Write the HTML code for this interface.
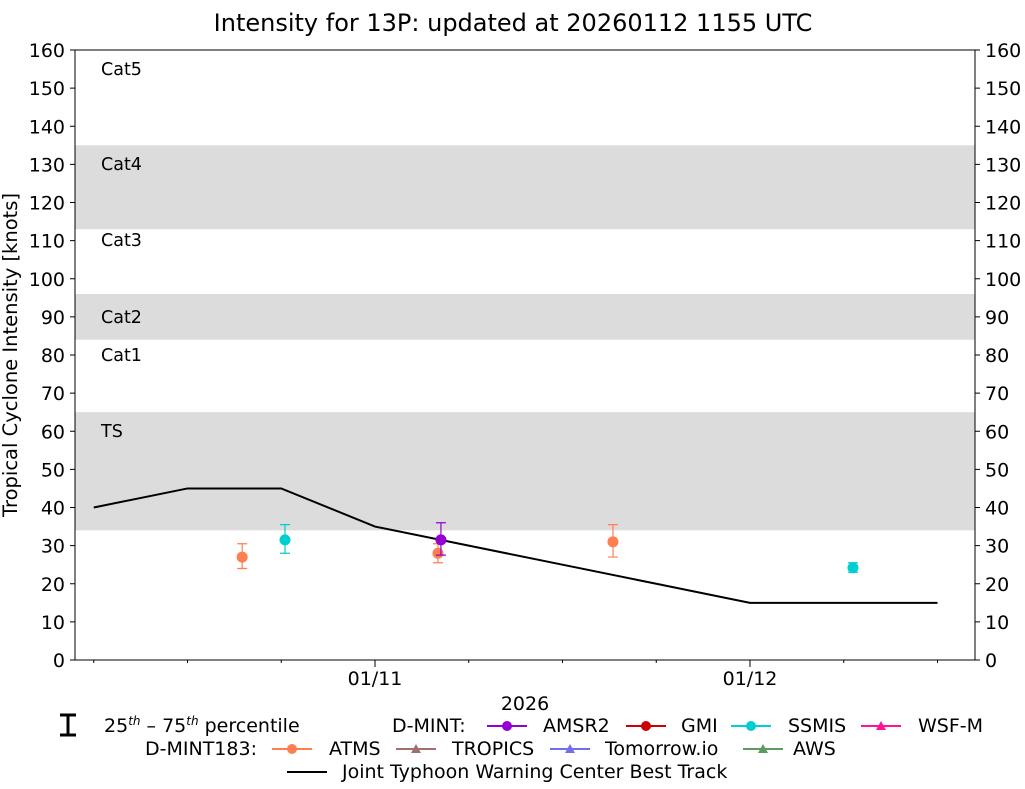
<!DOCTYPE html>
<html><head><meta charset="utf-8"><style>
body{margin:0;background:#fff;font-family:"DejaVu Sans","Liberation Sans",sans-serif}
svg text{font-family:"DejaVu Sans","Liberation Sans",sans-serif}
</style></head><body>
<svg id="c" width="1025" height="785" xmlns="http://www.w3.org/2000/svg">
<text x="513" y="31" font-size="24" text-anchor="middle">Intensity for 13P: updated at 20260112 1155 UTC</text>
<g id="bands"></g><g id="grid"></g><g id="series"></g>
<rect x="75" y="50" width="900" height="610" fill="none" stroke="#000" stroke-width="1"/>
<text transform="translate(17,355) rotate(-90)" font-size="19.5" text-anchor="middle">Tropical Cyclone Intensity [knots]</text>
<text x="525" y="710" font-size="19" text-anchor="middle">2026</text>
<g font-size="19">
<path d="M60 715h16M68 715v20M60 735h16" stroke="#000" stroke-width="3" fill="none"/>
<text x="104" y="732">25<tspan font-size="12" dy="-7" font-style="italic">th</tspan><tspan dy="7"> – 75</tspan><tspan font-size="12" dy="-7" font-style="italic">th</tspan><tspan dy="7"> percentile</tspan></text>
<text x="392" y="732">D-MINT:</text>
<line x1="487" y1="726" x2="527" y2="726" stroke="#9400d3" stroke-width="2"/><circle cx="507" cy="726" r="5" fill="#9400d3"/><text x="543" y="732">AMSR2</text>
<line x1="626" y1="726" x2="666" y2="726" stroke="#cc0000" stroke-width="2"/><circle cx="646" cy="726" r="5" fill="#cc0000"/><text x="681" y="732">GMI</text>
<line x1="731" y1="726" x2="771" y2="726" stroke="#00ced1" stroke-width="2"/><circle cx="751" cy="726" r="5" fill="#00ced1"/><text x="788" y="732">SSMIS</text>
<line x1="861" y1="726" x2="901" y2="726" stroke="#ff1493" stroke-width="2"/><path d="M881 721l5 9h-10z" fill="#ff1493"/><text x="918" y="732">WSF-M</text>
<text x="145" y="755">D-MINT183:</text>
<line x1="272" y1="749" x2="312" y2="749" stroke="#ff7f50" stroke-width="2"/><circle cx="292" cy="749" r="5" fill="#ff7f50"/><text x="329" y="755">ATMS</text>
<line x1="396" y1="749" x2="436" y2="749" stroke="#a0706e" stroke-width="2"/><path d="M416 744l5 9h-10z" fill="#a0706e"/><text x="452" y="755">TROPICS</text>
<line x1="550" y1="749" x2="590" y2="749" stroke="#7070ee" stroke-width="2"/><path d="M570 744l5 9h-10z" fill="#7070ee"/><text x="605" y="755">Tomorrow.io</text>
<line x1="743" y1="749" x2="783" y2="749" stroke="#5f9a5f" stroke-width="2"/><path d="M763 744l5 9h-10z" fill="#5f9a5f"/><text x="793" y="755">AWS</text>
<line x1="287" y1="772" x2="327" y2="772" stroke="#000" stroke-width="2"/><text x="342" y="778">Joint Typhoon Warning Center Best Track</text>
</g>
</svg>
<script>
const yTicks=[0,10,20,30,40,50,60,70,80,90,100,110,120,130,140,150,160];
const catNames=["TS","Cat1","Cat2","Cat3","Cat4","Cat5"];
const bandLow=[34,84,113];
const bandHigh=[65,96,135];
const xTickHours=[24,48];
const xTickLabels=["01/11","01/12"];
const btHours=[6,12,18,24,30,36,42,48,54,60];
const btVals=[40,45,45,35,30,25,20,15,15,15];
const obsSensor=["ATMS","SSMIS","ATMS","AMSR2","ATMS","SSMIS"];
const obsHours=[15.5,18.24,28.03,28.22,39.23,54.59];
const obsVals=[27,31.5,28,31.5,31,24.2];
const obsLo=[24,28,25.5,27.5,27,23];
const obsHi=[30.5,35.5,30.5,36,35.5,25.5];
const colors={ATMS:"#ff7f50",SSMIS:"#00ced1",AMSR2:"#9400d3"};
const NS="http://www.w3.org/2000/svg";
const X=h=>375+(h-24)*375/24, Y=v=>660-v*610/160;
function mk(t,a,p){const e=document.createElementNS(NS,t);for(const k in a)e.setAttribute(k,a[k]);document.getElementById(p).appendChild(e);return e;}
bandLow.forEach((l,i)=>{const e=mk("rect",{x:75,y:Y(bandHigh[i]),width:900,height:Y(l)-Y(bandHigh[i]),fill:"#dcdcdc"},"bands");

});
catNames.forEach((n,i)=>{const t=mk("text",{x:101,y:[437,361,323,246,170,75][i],"font-size":17.5},"bands");t.textContent=n;

});
yTicks.forEach(v=>{const y=Y(v);
mk("line",{x1:70,x2:75,y1:y,y2:y,stroke:"#000"},"grid");mk("line",{x1:975,x2:980,y1:y,y2:y,stroke:"#000"},"grid");
const a=mk("text",{x:65,y:y+7,"font-size":19,"text-anchor":"end"},"grid");a.textContent=v;


const b=mk("text",{x:985,y:y+7,"font-size":19},"grid");b.textContent=v;

});
for(let h=6;h<=60;h+=6){const x=X(h);const maj=xTickHours.includes(h);mk("line",{x1:x,x2:x,y1:660,y2:maj?667:663,stroke:"#000"},"grid");}
xTickHours.forEach((h,i)=>{const t=mk("text",{x:X(h),y:685,"font-size":19,"text-anchor":"middle"},"grid");t.textContent=xTickLabels[i];

});
const bt=mk("polyline",{points:btHours.map((h,i)=>X(h)+","+Y(btVals[i])).join(" "),fill:"none",stroke:"#000","stroke-width":2},"series");


obsHours.forEach((h,i)=>{const x=X(h),c=colors[obsSensor[i]];
const g=mk("g",{},"series");


const ap=(t,a)=>{const e=document.createElementNS(NS,t);for(const k in a)e.setAttribute(k,a[k]);g.appendChild(e);};
ap("path",{d:`M${x} ${Y(obsLo[i])}V${Y(obsHi[i])}M${x-5} ${Y(obsLo[i])}h10M${x-5} ${Y(obsHi[i])}h10`,stroke:c,fill:"none","stroke-width":1.2});
ap("circle",{cx:x,cy:Y(obsVals[i]),r:5.5,fill:c});});
</script>
</body></html>
